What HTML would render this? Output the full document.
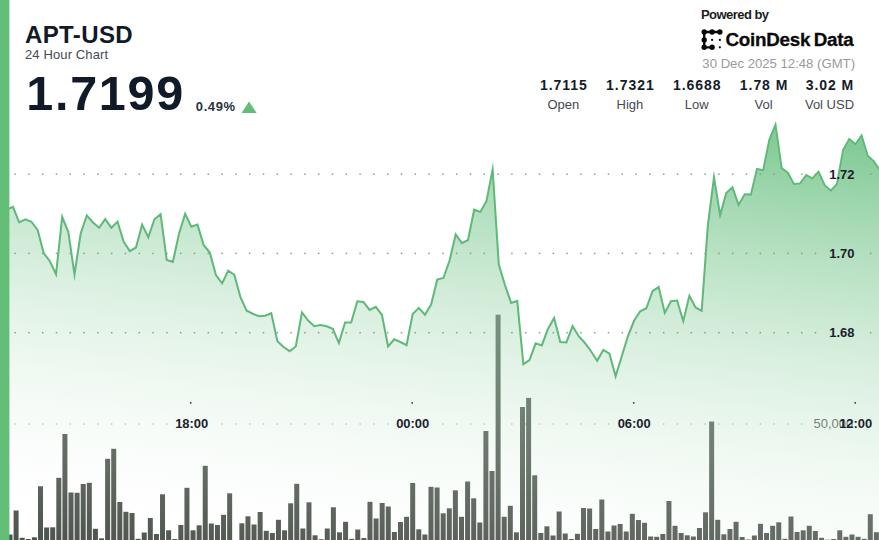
<!DOCTYPE html>
<html><head><meta charset="utf-8"><title>APT-USD</title>
<style>
html,body{margin:0;padding:0;background:#fff;}
body{width:879px;height:540px;overflow:hidden;position:relative;font-family:"Liberation Sans",sans-serif;color:#111a28;}
#chart{position:absolute;left:0;top:0;width:879px;height:540px;}
.t{position:absolute;white-space:nowrap;line-height:1;}
#sym{left:25px;top:23.8px;font-size:23px;font-weight:bold;letter-spacing:0.35px;transform:scaleX(1.045);transform-origin:0 0;}
#sub{left:25px;top:48px;font-size:13px;color:#444a52;letter-spacing:0.12px;}
#price{left:26.3px;top:69px;font-size:48.5px;font-weight:bold;letter-spacing:1.7px;}
#chg{left:195.8px;top:99.6px;font-size:13px;font-weight:bold;letter-spacing:0.6px;color:#2a323e;}
#pw{left:701px;top:7.5px;font-size:13px;font-weight:bold;letter-spacing:-0.55px;color:#1c1c1c;}
#cd{left:725.4px;top:30.8px;font-size:18.8px;font-weight:bold;letter-spacing:-0.22px;color:#0a0a0a;-webkit-text-stroke:0.3px #0a0a0a;}
#dt{right:24.2px;top:56.9px;font-size:13.7px;color:#9a9a9a;transform:scaleX(0.96);transform-origin:100% 0;}
.st{position:absolute;top:77.9px;width:80px;margin-left:-40px;text-align:center;white-space:nowrap;}
.st b{display:block;font-size:14px;line-height:14px;letter-spacing:0.95px;margin-right:-0.95px;color:#151c28;}
.st span{display:block;margin-top:6.5px;font-size:13px;line-height:13px;color:#454a50;}
</style></head><body>
<svg id="chart" width="879" height="540" viewBox="0 0 879 540">
<defs>
<linearGradient id="ag" gradientUnits="userSpaceOnUse" x1="879" y1="123" x2="819" y2="636">
<stop offset="0" stop-color="#5dbb76" stop-opacity="0.85"/>
<stop offset="1" stop-color="#ffffff" stop-opacity="0"/>
</linearGradient>
</defs>
<g fill="#87928a" opacity="0.55"><rect x="14.35" y="423.25" width="1.5" height="1.5"/><rect x="28.15" y="423.25" width="1.5" height="1.5"/><rect x="41.95" y="423.25" width="1.5" height="1.5"/><rect x="55.75" y="423.25" width="1.5" height="1.5"/><rect x="69.55" y="423.25" width="1.5" height="1.5"/><rect x="83.35" y="423.25" width="1.5" height="1.5"/><rect x="97.15" y="423.25" width="1.5" height="1.5"/><rect x="110.95" y="423.25" width="1.5" height="1.5"/><rect x="124.75" y="423.25" width="1.5" height="1.5"/><rect x="138.55" y="423.25" width="1.5" height="1.5"/><rect x="152.35" y="423.25" width="1.5" height="1.5"/><rect x="166.15" y="423.25" width="1.5" height="1.5"/><rect x="221.35" y="423.25" width="1.5" height="1.5"/><rect x="235.15" y="423.25" width="1.5" height="1.5"/><rect x="248.95" y="423.25" width="1.5" height="1.5"/><rect x="262.75" y="423.25" width="1.5" height="1.5"/><rect x="276.55" y="423.25" width="1.5" height="1.5"/><rect x="290.35" y="423.25" width="1.5" height="1.5"/><rect x="304.15" y="423.25" width="1.5" height="1.5"/><rect x="317.95" y="423.25" width="1.5" height="1.5"/><rect x="331.75" y="423.25" width="1.5" height="1.5"/><rect x="345.55" y="423.25" width="1.5" height="1.5"/><rect x="359.35" y="423.25" width="1.5" height="1.5"/><rect x="373.15" y="423.25" width="1.5" height="1.5"/><rect x="386.95" y="423.25" width="1.5" height="1.5"/><rect x="442.15" y="423.25" width="1.5" height="1.5"/><rect x="455.95" y="423.25" width="1.5" height="1.5"/><rect x="469.75" y="423.25" width="1.5" height="1.5"/><rect x="483.55" y="423.25" width="1.5" height="1.5"/><rect x="497.35" y="423.25" width="1.5" height="1.5"/><rect x="511.15" y="423.25" width="1.5" height="1.5"/><rect x="524.95" y="423.25" width="1.5" height="1.5"/><rect x="538.75" y="423.25" width="1.5" height="1.5"/><rect x="552.55" y="423.25" width="1.5" height="1.5"/><rect x="566.35" y="423.25" width="1.5" height="1.5"/><rect x="580.15" y="423.25" width="1.5" height="1.5"/><rect x="593.95" y="423.25" width="1.5" height="1.5"/><rect x="607.75" y="423.25" width="1.5" height="1.5"/><rect x="662.95" y="423.25" width="1.5" height="1.5"/><rect x="676.75" y="423.25" width="1.5" height="1.5"/><rect x="690.55" y="423.25" width="1.5" height="1.5"/><rect x="704.35" y="423.25" width="1.5" height="1.5"/><rect x="718.15" y="423.25" width="1.5" height="1.5"/><rect x="731.95" y="423.25" width="1.5" height="1.5"/><rect x="745.75" y="423.25" width="1.5" height="1.5"/><rect x="759.55" y="423.25" width="1.5" height="1.5"/><rect x="773.35" y="423.25" width="1.5" height="1.5"/><rect x="787.15" y="423.25" width="1.5" height="1.5"/><rect x="800.95" y="423.25" width="1.5" height="1.5"/></g>
<g fill="#4c534c"><rect x="7.50" y="534.50" width="5.0" height="5.50"/><rect x="13.60" y="510.50" width="5.0" height="29.50"/><rect x="19.70" y="537.80" width="5.0" height="2.20"/><rect x="25.80" y="539.00" width="5.0" height="1.00"/><rect x="31.91" y="537.30" width="5.0" height="2.70"/><rect x="38.01" y="486.25" width="5.0" height="53.75"/><rect x="44.11" y="527.50" width="5.0" height="12.50"/><rect x="50.21" y="527.30" width="5.0" height="12.70"/><rect x="56.31" y="477.80" width="5.0" height="62.20"/><rect x="62.41" y="434.00" width="5.0" height="106.00"/><rect x="68.51" y="492.50" width="5.0" height="47.50"/><rect x="74.61" y="492.80" width="5.0" height="47.20"/><rect x="80.72" y="484.00" width="5.0" height="56.00"/><rect x="86.82" y="482.80" width="5.0" height="57.20"/><rect x="92.92" y="528.80" width="5.0" height="11.20"/><rect x="99.02" y="538.30" width="5.0" height="1.70"/><rect x="105.12" y="458.80" width="5.0" height="81.20"/><rect x="111.22" y="448.80" width="5.0" height="91.20"/><rect x="117.32" y="502.00" width="5.0" height="38.00"/><rect x="123.42" y="511.80" width="5.0" height="28.20"/><rect x="129.53" y="513.00" width="5.0" height="27.00"/><rect x="135.63" y="538.80" width="5.0" height="1.20"/><rect x="141.73" y="532.50" width="5.0" height="7.50"/><rect x="147.83" y="518.00" width="5.0" height="22.00"/><rect x="153.93" y="534.00" width="5.0" height="6.00"/><rect x="160.03" y="494.30" width="5.0" height="45.70"/><rect x="166.13" y="530.30" width="5.0" height="9.70"/><rect x="172.24" y="539.00" width="5.0" height="1.00"/><rect x="178.34" y="525.00" width="5.0" height="15.00"/><rect x="184.44" y="487.80" width="5.0" height="52.20"/><rect x="190.54" y="530.30" width="5.0" height="9.70"/><rect x="196.64" y="525.30" width="5.0" height="14.70"/><rect x="202.74" y="465.80" width="5.0" height="74.20"/><rect x="208.84" y="523.50" width="5.0" height="16.50"/><rect x="214.94" y="525.00" width="5.0" height="15.00"/><rect x="221.05" y="514.80" width="5.0" height="25.20"/><rect x="227.15" y="493.30" width="5.0" height="46.70"/><rect x="239.35" y="523.30" width="5.0" height="16.70"/><rect x="245.45" y="516.30" width="5.0" height="23.70"/><rect x="251.55" y="524.50" width="5.0" height="15.50"/><rect x="257.65" y="512.00" width="5.0" height="28.00"/><rect x="263.75" y="530.80" width="5.0" height="9.20"/><rect x="269.86" y="533.00" width="5.0" height="7.00"/><rect x="275.96" y="519.80" width="5.0" height="20.20"/><rect x="282.06" y="530.30" width="5.0" height="9.70"/><rect x="288.16" y="503.30" width="5.0" height="36.70"/><rect x="294.26" y="483.80" width="5.0" height="56.20"/><rect x="300.36" y="528.50" width="5.0" height="11.50"/><rect x="306.46" y="502.30" width="5.0" height="37.70"/><rect x="312.56" y="535.30" width="5.0" height="4.70"/><rect x="318.67" y="539.20" width="5.0" height="0.80"/><rect x="324.77" y="528.50" width="5.0" height="11.50"/><rect x="330.87" y="507.30" width="5.0" height="32.70"/><rect x="336.97" y="532.30" width="5.0" height="7.70"/><rect x="343.07" y="521.80" width="5.0" height="18.20"/><rect x="349.17" y="538.80" width="5.0" height="1.20"/><rect x="355.27" y="529.50" width="5.0" height="10.50"/><rect x="361.38" y="538.00" width="5.0" height="2.00"/><rect x="367.48" y="501.80" width="5.0" height="38.20"/><rect x="373.58" y="518.50" width="5.0" height="21.50"/><rect x="379.68" y="503.00" width="5.0" height="37.00"/><rect x="385.78" y="506.50" width="5.0" height="33.50"/><rect x="391.88" y="532.00" width="5.0" height="8.00"/><rect x="397.98" y="522.00" width="5.0" height="18.00"/><rect x="404.08" y="516.80" width="5.0" height="23.20"/><rect x="410.19" y="483.00" width="5.0" height="57.00"/><rect x="416.29" y="529.30" width="5.0" height="10.70"/><rect x="422.39" y="534.50" width="5.0" height="5.50"/><rect x="428.49" y="486.80" width="5.0" height="53.20"/><rect x="434.59" y="487.50" width="5.0" height="52.50"/><rect x="440.69" y="513.30" width="5.0" height="26.70"/><rect x="446.79" y="508.30" width="5.0" height="31.70"/><rect x="452.89" y="490.30" width="5.0" height="49.70"/><rect x="459.00" y="516.80" width="5.0" height="23.20"/><rect x="465.10" y="481.50" width="5.0" height="58.50"/><rect x="471.20" y="498.30" width="5.0" height="41.70"/><rect x="477.30" y="522.50" width="5.0" height="17.50"/><rect x="483.40" y="431.00" width="5.0" height="109.00"/><rect x="489.50" y="471.00" width="5.0" height="69.00"/><rect x="495.60" y="314.70" width="5.0" height="225.30"/><rect x="501.71" y="516.80" width="5.0" height="23.20"/><rect x="507.81" y="505.80" width="5.0" height="34.20"/><rect x="513.91" y="532.30" width="5.0" height="7.70"/><rect x="520.01" y="407.00" width="5.0" height="133.00"/><rect x="526.11" y="397.90" width="5.0" height="142.10"/><rect x="532.21" y="475.30" width="5.0" height="64.70"/><rect x="538.31" y="533.00" width="5.0" height="7.00"/><rect x="544.41" y="526.30" width="5.0" height="13.70"/><rect x="550.52" y="535.50" width="5.0" height="4.50"/><rect x="556.62" y="511.50" width="5.0" height="28.50"/><rect x="562.72" y="533.50" width="5.0" height="6.50"/><rect x="568.82" y="539.00" width="5.0" height="1.00"/><rect x="574.92" y="533.80" width="5.0" height="6.20"/><rect x="581.02" y="508.00" width="5.0" height="32.00"/><rect x="587.12" y="508.50" width="5.0" height="31.50"/><rect x="593.22" y="529.00" width="5.0" height="11.00"/><rect x="599.33" y="499.50" width="5.0" height="40.50"/><rect x="605.43" y="531.50" width="5.0" height="8.50"/><rect x="611.53" y="525.50" width="5.0" height="14.50"/><rect x="617.63" y="524.00" width="5.0" height="16.00"/><rect x="623.73" y="531.50" width="5.0" height="8.50"/><rect x="629.83" y="513.80" width="5.0" height="26.20"/><rect x="635.93" y="520.00" width="5.0" height="20.00"/><rect x="642.04" y="522.80" width="5.0" height="17.20"/><rect x="648.14" y="536.50" width="5.0" height="3.50"/><rect x="654.24" y="536.80" width="5.0" height="3.20"/><rect x="660.34" y="534.00" width="5.0" height="6.00"/><rect x="666.44" y="501.00" width="5.0" height="39.00"/><rect x="672.54" y="525.80" width="5.0" height="14.20"/><rect x="678.64" y="533.00" width="5.0" height="7.00"/><rect x="684.74" y="535.30" width="5.0" height="4.70"/><rect x="690.85" y="536.50" width="5.0" height="3.50"/><rect x="696.95" y="528.00" width="5.0" height="12.00"/><rect x="703.05" y="512.30" width="5.0" height="27.70"/><rect x="709.15" y="421.50" width="5.0" height="118.50"/><rect x="715.25" y="519.80" width="5.0" height="20.20"/><rect x="721.35" y="534.30" width="5.0" height="5.70"/><rect x="727.45" y="529.00" width="5.0" height="11.00"/><rect x="733.55" y="521.80" width="5.0" height="18.20"/><rect x="739.66" y="537.00" width="5.0" height="3.00"/><rect x="745.76" y="539.50" width="5.0" height="0.50"/><rect x="751.86" y="535.50" width="5.0" height="4.50"/><rect x="757.96" y="523.80" width="5.0" height="16.20"/><rect x="764.06" y="533.00" width="5.0" height="7.00"/><rect x="770.16" y="525.80" width="5.0" height="14.20"/><rect x="776.26" y="522.30" width="5.0" height="17.70"/><rect x="782.37" y="538.80" width="5.0" height="1.20"/><rect x="788.47" y="516.50" width="5.0" height="23.50"/><rect x="794.57" y="532.00" width="5.0" height="8.00"/><rect x="800.67" y="530.30" width="5.0" height="9.70"/><rect x="806.77" y="525.80" width="5.0" height="14.20"/><rect x="812.87" y="531.00" width="5.0" height="9.00"/><rect x="818.97" y="537.80" width="5.0" height="2.20"/><rect x="825.07" y="539.70" width="5.0" height="0.30"/><rect x="831.18" y="539.00" width="5.0" height="1.00"/><rect x="837.28" y="530.30" width="5.0" height="9.70"/><rect x="843.38" y="536.80" width="5.0" height="3.20"/><rect x="849.48" y="534.50" width="5.0" height="5.50"/><rect x="855.58" y="536.80" width="5.0" height="3.20"/><rect x="861.68" y="538.80" width="5.0" height="1.20"/><rect x="867.78" y="514.20" width="5.0" height="25.80"/><rect x="873.88" y="532.20" width="5.0" height="7.80"/></g>
<path d="M6.85,209.50 L13.00,206.88 L19.15,222.34 L25.30,219.25 L31.45,221.75 L37.60,230.00 L43.75,253.25 L49.89,261.25 L56.04,274.21 L62.19,216.99 L68.34,232.00 L74.49,274.59 L80.64,233.75 L86.79,215.43 L92.94,222.50 L99.09,227.83 L105.23,219.04 L111.38,227.80 L117.53,221.65 L123.68,241.75 L129.83,251.14 L135.98,247.50 L142.13,224.62 L148.28,237.25 L154.43,219.25 L160.58,214.20 L166.72,260.00 L172.87,261.85 L179.02,233.75 L185.17,213.81 L191.32,226.67 L197.47,224.63 L203.62,245.00 L209.77,252.50 L215.92,275.00 L222.07,283.36 L228.22,270.69 L234.36,275.00 L240.51,297.50 L246.66,310.75 L252.81,313.75 L258.96,316.25 L265.11,315.75 L271.26,313.20 L277.41,341.25 L283.56,347.00 L289.70,351.21 L295.85,346.25 L302.00,312.42 L308.15,320.50 L314.30,326.25 L320.45,325.00 L326.60,326.25 L332.75,328.75 L338.90,343.09 L345.05,322.50 L351.19,322.50 L357.34,301.32 L363.49,302.00 L369.64,309.94 L375.79,306.82 L381.94,315.00 L388.09,346.43 L394.24,339.29 L400.39,342.00 L406.54,345.24 L412.69,314.00 L418.83,307.89 L424.98,314.74 L431.13,304.50 L437.28,279.50 L443.43,278.00 L449.58,260.50 L455.73,234.40 L461.88,243.17 L468.03,240.00 L474.18,209.69 L480.32,211.93 L486.47,201.25 L492.62,169.65 L498.77,264.50 L504.92,285.00 L511.07,302.89 L517.22,300.96 L523.37,364.10 L529.52,360.00 L535.66,343.36 L541.81,345.39 L547.96,329.00 L554.11,318.03 L560.26,342.00 L566.41,342.46 L572.56,326.08 L578.71,336.25 L584.86,343.00 L591.01,351.25 L597.15,360.85 L603.30,349.89 L609.45,353.75 L615.60,376.26 L621.75,356.25 L627.90,336.25 L634.05,320.75 L640.20,311.25 L646.35,308.25 L652.50,291.25 L658.64,287.05 L664.79,312.89 L670.94,301.25 L677.09,300.57 L683.24,321.14 L689.39,295.85 L695.54,307.50 L701.69,310.90 L707.84,225.50 L713.99,177.28 L720.13,215.12 L726.28,193.10 L732.43,187.34 L738.58,204.96 L744.73,194.20 L750.88,194.63 L757.03,169.02 L763.18,170.37 L769.33,139.90 L775.48,124.95 L781.62,168.20 L787.77,172.70 L793.92,183.99 L800.07,183.60 L806.22,175.08 L812.37,178.36 L818.52,171.91 L824.67,185.20 L830.82,190.68 L836.97,184.00 L843.12,150.10 L849.26,139.01 L855.41,144.24 L861.56,135.47 L867.71,155.70 L873.86,161.40 L880.01,170.50 L880.01,540 L6.85,540 Z" fill="url(#ag)"/>
<g fill="#87928a" opacity="0.9"><rect x="14.35" y="173.45" width="1.5" height="1.5"/><rect x="28.15" y="173.45" width="1.5" height="1.5"/><rect x="41.95" y="173.45" width="1.5" height="1.5"/><rect x="55.75" y="173.45" width="1.5" height="1.5"/><rect x="69.55" y="173.45" width="1.5" height="1.5"/><rect x="83.35" y="173.45" width="1.5" height="1.5"/><rect x="97.15" y="173.45" width="1.5" height="1.5"/><rect x="110.95" y="173.45" width="1.5" height="1.5"/><rect x="124.75" y="173.45" width="1.5" height="1.5"/><rect x="138.55" y="173.45" width="1.5" height="1.5"/><rect x="152.35" y="173.45" width="1.5" height="1.5"/><rect x="166.15" y="173.45" width="1.5" height="1.5"/><rect x="179.95" y="173.45" width="1.5" height="1.5"/><rect x="193.75" y="173.45" width="1.5" height="1.5"/><rect x="207.55" y="173.45" width="1.5" height="1.5"/><rect x="221.35" y="173.45" width="1.5" height="1.5"/><rect x="235.15" y="173.45" width="1.5" height="1.5"/><rect x="248.95" y="173.45" width="1.5" height="1.5"/><rect x="262.75" y="173.45" width="1.5" height="1.5"/><rect x="276.55" y="173.45" width="1.5" height="1.5"/><rect x="290.35" y="173.45" width="1.5" height="1.5"/><rect x="304.15" y="173.45" width="1.5" height="1.5"/><rect x="317.95" y="173.45" width="1.5" height="1.5"/><rect x="331.75" y="173.45" width="1.5" height="1.5"/><rect x="345.55" y="173.45" width="1.5" height="1.5"/><rect x="359.35" y="173.45" width="1.5" height="1.5"/><rect x="373.15" y="173.45" width="1.5" height="1.5"/><rect x="386.95" y="173.45" width="1.5" height="1.5"/><rect x="400.75" y="173.45" width="1.5" height="1.5"/><rect x="414.55" y="173.45" width="1.5" height="1.5"/><rect x="428.35" y="173.45" width="1.5" height="1.5"/><rect x="442.15" y="173.45" width="1.5" height="1.5"/><rect x="455.95" y="173.45" width="1.5" height="1.5"/><rect x="469.75" y="173.45" width="1.5" height="1.5"/><rect x="483.55" y="173.45" width="1.5" height="1.5"/><rect x="497.35" y="173.45" width="1.5" height="1.5"/><rect x="511.15" y="173.45" width="1.5" height="1.5"/><rect x="524.95" y="173.45" width="1.5" height="1.5"/><rect x="538.75" y="173.45" width="1.5" height="1.5"/><rect x="552.55" y="173.45" width="1.5" height="1.5"/><rect x="566.35" y="173.45" width="1.5" height="1.5"/><rect x="580.15" y="173.45" width="1.5" height="1.5"/><rect x="593.95" y="173.45" width="1.5" height="1.5"/><rect x="607.75" y="173.45" width="1.5" height="1.5"/><rect x="621.55" y="173.45" width="1.5" height="1.5"/><rect x="635.35" y="173.45" width="1.5" height="1.5"/><rect x="649.15" y="173.45" width="1.5" height="1.5"/><rect x="662.95" y="173.45" width="1.5" height="1.5"/><rect x="676.75" y="173.45" width="1.5" height="1.5"/><rect x="690.55" y="173.45" width="1.5" height="1.5"/><rect x="704.35" y="173.45" width="1.5" height="1.5"/><rect x="718.15" y="173.45" width="1.5" height="1.5"/><rect x="731.95" y="173.45" width="1.5" height="1.5"/><rect x="745.75" y="173.45" width="1.5" height="1.5"/><rect x="759.55" y="173.45" width="1.5" height="1.5"/><rect x="773.35" y="173.45" width="1.5" height="1.5"/><rect x="787.15" y="173.45" width="1.5" height="1.5"/><rect x="800.95" y="173.45" width="1.5" height="1.5"/><rect x="814.75" y="173.45" width="1.5" height="1.5"/><rect x="869.95" y="173.45" width="1.5" height="1.5"/><rect x="14.35" y="252.65" width="1.5" height="1.5"/><rect x="28.15" y="252.65" width="1.5" height="1.5"/><rect x="41.95" y="252.65" width="1.5" height="1.5"/><rect x="55.75" y="252.65" width="1.5" height="1.5"/><rect x="69.55" y="252.65" width="1.5" height="1.5"/><rect x="83.35" y="252.65" width="1.5" height="1.5"/><rect x="97.15" y="252.65" width="1.5" height="1.5"/><rect x="110.95" y="252.65" width="1.5" height="1.5"/><rect x="124.75" y="252.65" width="1.5" height="1.5"/><rect x="138.55" y="252.65" width="1.5" height="1.5"/><rect x="152.35" y="252.65" width="1.5" height="1.5"/><rect x="166.15" y="252.65" width="1.5" height="1.5"/><rect x="179.95" y="252.65" width="1.5" height="1.5"/><rect x="193.75" y="252.65" width="1.5" height="1.5"/><rect x="207.55" y="252.65" width="1.5" height="1.5"/><rect x="221.35" y="252.65" width="1.5" height="1.5"/><rect x="235.15" y="252.65" width="1.5" height="1.5"/><rect x="248.95" y="252.65" width="1.5" height="1.5"/><rect x="262.75" y="252.65" width="1.5" height="1.5"/><rect x="276.55" y="252.65" width="1.5" height="1.5"/><rect x="290.35" y="252.65" width="1.5" height="1.5"/><rect x="304.15" y="252.65" width="1.5" height="1.5"/><rect x="317.95" y="252.65" width="1.5" height="1.5"/><rect x="331.75" y="252.65" width="1.5" height="1.5"/><rect x="345.55" y="252.65" width="1.5" height="1.5"/><rect x="359.35" y="252.65" width="1.5" height="1.5"/><rect x="373.15" y="252.65" width="1.5" height="1.5"/><rect x="386.95" y="252.65" width="1.5" height="1.5"/><rect x="400.75" y="252.65" width="1.5" height="1.5"/><rect x="414.55" y="252.65" width="1.5" height="1.5"/><rect x="428.35" y="252.65" width="1.5" height="1.5"/><rect x="442.15" y="252.65" width="1.5" height="1.5"/><rect x="455.95" y="252.65" width="1.5" height="1.5"/><rect x="469.75" y="252.65" width="1.5" height="1.5"/><rect x="483.55" y="252.65" width="1.5" height="1.5"/><rect x="497.35" y="252.65" width="1.5" height="1.5"/><rect x="511.15" y="252.65" width="1.5" height="1.5"/><rect x="524.95" y="252.65" width="1.5" height="1.5"/><rect x="538.75" y="252.65" width="1.5" height="1.5"/><rect x="552.55" y="252.65" width="1.5" height="1.5"/><rect x="566.35" y="252.65" width="1.5" height="1.5"/><rect x="580.15" y="252.65" width="1.5" height="1.5"/><rect x="593.95" y="252.65" width="1.5" height="1.5"/><rect x="607.75" y="252.65" width="1.5" height="1.5"/><rect x="621.55" y="252.65" width="1.5" height="1.5"/><rect x="635.35" y="252.65" width="1.5" height="1.5"/><rect x="649.15" y="252.65" width="1.5" height="1.5"/><rect x="662.95" y="252.65" width="1.5" height="1.5"/><rect x="676.75" y="252.65" width="1.5" height="1.5"/><rect x="690.55" y="252.65" width="1.5" height="1.5"/><rect x="704.35" y="252.65" width="1.5" height="1.5"/><rect x="718.15" y="252.65" width="1.5" height="1.5"/><rect x="731.95" y="252.65" width="1.5" height="1.5"/><rect x="745.75" y="252.65" width="1.5" height="1.5"/><rect x="759.55" y="252.65" width="1.5" height="1.5"/><rect x="773.35" y="252.65" width="1.5" height="1.5"/><rect x="787.15" y="252.65" width="1.5" height="1.5"/><rect x="800.95" y="252.65" width="1.5" height="1.5"/><rect x="814.75" y="252.65" width="1.5" height="1.5"/><rect x="869.95" y="252.65" width="1.5" height="1.5"/><rect x="14.35" y="331.95" width="1.5" height="1.5"/><rect x="28.15" y="331.95" width="1.5" height="1.5"/><rect x="41.95" y="331.95" width="1.5" height="1.5"/><rect x="55.75" y="331.95" width="1.5" height="1.5"/><rect x="69.55" y="331.95" width="1.5" height="1.5"/><rect x="83.35" y="331.95" width="1.5" height="1.5"/><rect x="97.15" y="331.95" width="1.5" height="1.5"/><rect x="110.95" y="331.95" width="1.5" height="1.5"/><rect x="124.75" y="331.95" width="1.5" height="1.5"/><rect x="138.55" y="331.95" width="1.5" height="1.5"/><rect x="152.35" y="331.95" width="1.5" height="1.5"/><rect x="166.15" y="331.95" width="1.5" height="1.5"/><rect x="179.95" y="331.95" width="1.5" height="1.5"/><rect x="193.75" y="331.95" width="1.5" height="1.5"/><rect x="207.55" y="331.95" width="1.5" height="1.5"/><rect x="221.35" y="331.95" width="1.5" height="1.5"/><rect x="235.15" y="331.95" width="1.5" height="1.5"/><rect x="248.95" y="331.95" width="1.5" height="1.5"/><rect x="262.75" y="331.95" width="1.5" height="1.5"/><rect x="276.55" y="331.95" width="1.5" height="1.5"/><rect x="290.35" y="331.95" width="1.5" height="1.5"/><rect x="304.15" y="331.95" width="1.5" height="1.5"/><rect x="317.95" y="331.95" width="1.5" height="1.5"/><rect x="331.75" y="331.95" width="1.5" height="1.5"/><rect x="345.55" y="331.95" width="1.5" height="1.5"/><rect x="359.35" y="331.95" width="1.5" height="1.5"/><rect x="373.15" y="331.95" width="1.5" height="1.5"/><rect x="386.95" y="331.95" width="1.5" height="1.5"/><rect x="400.75" y="331.95" width="1.5" height="1.5"/><rect x="414.55" y="331.95" width="1.5" height="1.5"/><rect x="428.35" y="331.95" width="1.5" height="1.5"/><rect x="442.15" y="331.95" width="1.5" height="1.5"/><rect x="455.95" y="331.95" width="1.5" height="1.5"/><rect x="469.75" y="331.95" width="1.5" height="1.5"/><rect x="483.55" y="331.95" width="1.5" height="1.5"/><rect x="497.35" y="331.95" width="1.5" height="1.5"/><rect x="511.15" y="331.95" width="1.5" height="1.5"/><rect x="524.95" y="331.95" width="1.5" height="1.5"/><rect x="538.75" y="331.95" width="1.5" height="1.5"/><rect x="552.55" y="331.95" width="1.5" height="1.5"/><rect x="566.35" y="331.95" width="1.5" height="1.5"/><rect x="580.15" y="331.95" width="1.5" height="1.5"/><rect x="593.95" y="331.95" width="1.5" height="1.5"/><rect x="607.75" y="331.95" width="1.5" height="1.5"/><rect x="621.55" y="331.95" width="1.5" height="1.5"/><rect x="635.35" y="331.95" width="1.5" height="1.5"/><rect x="649.15" y="331.95" width="1.5" height="1.5"/><rect x="662.95" y="331.95" width="1.5" height="1.5"/><rect x="676.75" y="331.95" width="1.5" height="1.5"/><rect x="690.55" y="331.95" width="1.5" height="1.5"/><rect x="704.35" y="331.95" width="1.5" height="1.5"/><rect x="718.15" y="331.95" width="1.5" height="1.5"/><rect x="731.95" y="331.95" width="1.5" height="1.5"/><rect x="745.75" y="331.95" width="1.5" height="1.5"/><rect x="759.55" y="331.95" width="1.5" height="1.5"/><rect x="773.35" y="331.95" width="1.5" height="1.5"/><rect x="787.15" y="331.95" width="1.5" height="1.5"/><rect x="800.95" y="331.95" width="1.5" height="1.5"/><rect x="814.75" y="331.95" width="1.5" height="1.5"/><rect x="869.95" y="331.95" width="1.5" height="1.5"/></g>
<path d="M6.85,209.50 L13.00,206.88 L19.15,222.34 L25.30,219.25 L31.45,221.75 L37.60,230.00 L43.75,253.25 L49.89,261.25 L56.04,274.21 L62.19,216.99 L68.34,232.00 L74.49,274.59 L80.64,233.75 L86.79,215.43 L92.94,222.50 L99.09,227.83 L105.23,219.04 L111.38,227.80 L117.53,221.65 L123.68,241.75 L129.83,251.14 L135.98,247.50 L142.13,224.62 L148.28,237.25 L154.43,219.25 L160.58,214.20 L166.72,260.00 L172.87,261.85 L179.02,233.75 L185.17,213.81 L191.32,226.67 L197.47,224.63 L203.62,245.00 L209.77,252.50 L215.92,275.00 L222.07,283.36 L228.22,270.69 L234.36,275.00 L240.51,297.50 L246.66,310.75 L252.81,313.75 L258.96,316.25 L265.11,315.75 L271.26,313.20 L277.41,341.25 L283.56,347.00 L289.70,351.21 L295.85,346.25 L302.00,312.42 L308.15,320.50 L314.30,326.25 L320.45,325.00 L326.60,326.25 L332.75,328.75 L338.90,343.09 L345.05,322.50 L351.19,322.50 L357.34,301.32 L363.49,302.00 L369.64,309.94 L375.79,306.82 L381.94,315.00 L388.09,346.43 L394.24,339.29 L400.39,342.00 L406.54,345.24 L412.69,314.00 L418.83,307.89 L424.98,314.74 L431.13,304.50 L437.28,279.50 L443.43,278.00 L449.58,260.50 L455.73,234.40 L461.88,243.17 L468.03,240.00 L474.18,209.69 L480.32,211.93 L486.47,201.25 L492.62,169.65 L498.77,264.50 L504.92,285.00 L511.07,302.89 L517.22,300.96 L523.37,364.10 L529.52,360.00 L535.66,343.36 L541.81,345.39 L547.96,329.00 L554.11,318.03 L560.26,342.00 L566.41,342.46 L572.56,326.08 L578.71,336.25 L584.86,343.00 L591.01,351.25 L597.15,360.85 L603.30,349.89 L609.45,353.75 L615.60,376.26 L621.75,356.25 L627.90,336.25 L634.05,320.75 L640.20,311.25 L646.35,308.25 L652.50,291.25 L658.64,287.05 L664.79,312.89 L670.94,301.25 L677.09,300.57 L683.24,321.14 L689.39,295.85 L695.54,307.50 L701.69,310.90 L707.84,225.50 L713.99,177.28 L720.13,215.12 L726.28,193.10 L732.43,187.34 L738.58,204.96 L744.73,194.20 L750.88,194.63 L757.03,169.02 L763.18,170.37 L769.33,139.90 L775.48,124.95 L781.62,168.20 L787.77,172.70 L793.92,183.99 L800.07,183.60 L806.22,175.08 L812.37,178.36 L818.52,171.91 L824.67,185.20 L830.82,190.68 L836.97,184.00 L843.12,150.10 L849.26,139.01 L855.41,144.24 L861.56,135.47 L867.71,155.70 L873.86,161.40 L880.01,170.50" fill="none" stroke="#ffffff" stroke-opacity="0.1" stroke-width="3.2" stroke-linejoin="miter" stroke-miterlimit="10"/>
<path d="M6.85,209.50 L13.00,206.88 L19.15,222.34 L25.30,219.25 L31.45,221.75 L37.60,230.00 L43.75,253.25 L49.89,261.25 L56.04,274.21 L62.19,216.99 L68.34,232.00 L74.49,274.59 L80.64,233.75 L86.79,215.43 L92.94,222.50 L99.09,227.83 L105.23,219.04 L111.38,227.80 L117.53,221.65 L123.68,241.75 L129.83,251.14 L135.98,247.50 L142.13,224.62 L148.28,237.25 L154.43,219.25 L160.58,214.20 L166.72,260.00 L172.87,261.85 L179.02,233.75 L185.17,213.81 L191.32,226.67 L197.47,224.63 L203.62,245.00 L209.77,252.50 L215.92,275.00 L222.07,283.36 L228.22,270.69 L234.36,275.00 L240.51,297.50 L246.66,310.75 L252.81,313.75 L258.96,316.25 L265.11,315.75 L271.26,313.20 L277.41,341.25 L283.56,347.00 L289.70,351.21 L295.85,346.25 L302.00,312.42 L308.15,320.50 L314.30,326.25 L320.45,325.00 L326.60,326.25 L332.75,328.75 L338.90,343.09 L345.05,322.50 L351.19,322.50 L357.34,301.32 L363.49,302.00 L369.64,309.94 L375.79,306.82 L381.94,315.00 L388.09,346.43 L394.24,339.29 L400.39,342.00 L406.54,345.24 L412.69,314.00 L418.83,307.89 L424.98,314.74 L431.13,304.50 L437.28,279.50 L443.43,278.00 L449.58,260.50 L455.73,234.40 L461.88,243.17 L468.03,240.00 L474.18,209.69 L480.32,211.93 L486.47,201.25 L492.62,169.65 L498.77,264.50 L504.92,285.00 L511.07,302.89 L517.22,300.96 L523.37,364.10 L529.52,360.00 L535.66,343.36 L541.81,345.39 L547.96,329.00 L554.11,318.03 L560.26,342.00 L566.41,342.46 L572.56,326.08 L578.71,336.25 L584.86,343.00 L591.01,351.25 L597.15,360.85 L603.30,349.89 L609.45,353.75 L615.60,376.26 L621.75,356.25 L627.90,336.25 L634.05,320.75 L640.20,311.25 L646.35,308.25 L652.50,291.25 L658.64,287.05 L664.79,312.89 L670.94,301.25 L677.09,300.57 L683.24,321.14 L689.39,295.85 L695.54,307.50 L701.69,310.90 L707.84,225.50 L713.99,177.28 L720.13,215.12 L726.28,193.10 L732.43,187.34 L738.58,204.96 L744.73,194.20 L750.88,194.63 L757.03,169.02 L763.18,170.37 L769.33,139.90 L775.48,124.95 L781.62,168.20 L787.77,172.70 L793.92,183.99 L800.07,183.60 L806.22,175.08 L812.37,178.36 L818.52,171.91 L824.67,185.20 L830.82,190.68 L836.97,184.00 L843.12,150.10 L849.26,139.01 L855.41,144.24 L861.56,135.47 L867.71,155.70 L873.86,161.40 L880.01,170.50" fill="none" stroke="#60b97b" stroke-width="2.05" stroke-linejoin="miter" stroke-miterlimit="10"/>
<rect x="0" y="0" width="9.4" height="540" fill="#63bf78"/>
<g font-family="Liberation Sans, sans-serif" font-size="13.5" font-weight="bold" fill="#1a212c" text-anchor="middle">
<text transform="translate(833.3,428.4) scale(0.96,1)" font-weight="normal" fill="#78827b">50,000</text>
<text transform="translate(191.7,428.4) scale(0.96,1)">18:00</text>
<text transform="translate(412.7,428.4) scale(0.96,1)">00:00</text>
<text transform="translate(634.2,428.4) scale(0.96,1)">06:00</text>
<text transform="translate(855.7,428.4) scale(0.96,1)">12:00</text>
<text transform="translate(841.8,179.1) scale(0.96,1)">1.72</text>
<text transform="translate(841.8,258.2) scale(0.96,1)">1.70</text>
<text transform="translate(841.8,337.3) scale(0.96,1)">1.68</text>
</g>
<g fill="#3c443e"><rect x="189.9" y="402.1" width="1.6" height="1.6"/><rect x="411.4" y="402.1" width="1.6" height="1.6"/><rect x="632.9" y="402.1" width="1.6" height="1.6"/><rect x="854.4" y="402.1" width="1.6" height="1.6"/></g>
<polygon points="249,101.4 256.6,113 241.6,113" fill="#62bd7a"/>
<g fill="#0a0a0a" id="logo">
<path d="M719.85,32 L704.2,32 L704.2,47.3 L712.1,47.3" fill="none" stroke="#0a0a0a" stroke-width="2.3" stroke-linecap="round" stroke-linejoin="round"/>
<circle cx="704.2" cy="32" r="2.7"/><circle cx="712.1" cy="32" r="2.7"/><circle cx="719.85" cy="32" r="2.7"/>
<circle cx="704.2" cy="39.9" r="2.7"/><circle cx="704.2" cy="47.3" r="2.7"/><circle cx="712.1" cy="47.3" r="2.7"/>
<circle cx="712.1" cy="39.9" r="1.15"/><circle cx="719.85" cy="39.9" r="1.15"/><circle cx="719.85" cy="47.3" r="1.15"/>
</g>
</svg>
<div class="t" id="sym">APT-USD</div>
<div class="t" id="sub">24 Hour Chart</div>
<div class="t" id="price">1.7199</div>
<div class="t" id="chg">0.49%</div>
<div class="t" id="pw">Powered by</div>
<div class="t" id="cd">CoinDesk<span style="margin-left:3.4px">Data</span></div>
<div class="t" id="dt">30 Dec 2025 12:48 (GMT)</div>
<div class="st" style="left:563.3px"><b>1.7115</b><span>Open</span></div>
<div class="st" style="left:629.9px"><b>1.7321</b><span>High</span></div>
<div class="st" style="left:696.7px"><b>1.6688</b><span>Low</span></div>
<div class="st" style="left:763.6px"><b>1.78 M</b><span>Vol</span></div>
<div class="st" style="left:829.5px"><b>3.02 M</b><span>Vol USD</span></div>
</body></html>
